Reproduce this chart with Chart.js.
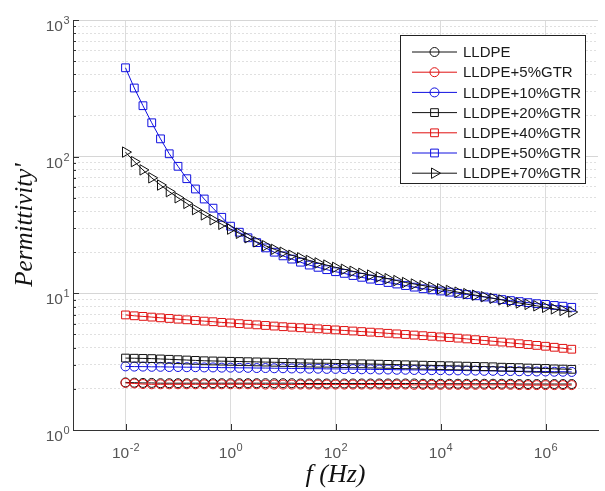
<!DOCTYPE html>
<html>
<head>
<meta charset="utf-8">
<script src="https://cdn.jsdelivr.net/npm/chart.js@4"></script>
<style>
  html, body { margin: 0; padding: 0; background: #fff; }
  canvas { display: block; }
</style>
</head>
<body>
<canvas id="permChart" width="605" height="491"></canvas>
<script>
// frequencies (Hz), 6 points per decade
var freqs = [
  0.01, 0.0147, 0.0215, 0.0316, 0.0464, 0.0681,
  0.1, 0.147, 0.215, 0.316, 0.464, 0.681,
  1, 1.47, 2.15, 3.16, 4.64, 6.81,
  10, 14.7, 21.5, 31.6, 46.4, 68.1,
  100, 147, 215, 316, 464, 681,
  1000, 1470, 2150, 3160, 4640, 6810,
  1e4, 1.47e4, 2.15e4, 3.16e4, 4.64e4, 6.81e4,
  1e5, 1.47e5, 2.15e5, 3.16e5, 4.64e5, 6.81e5,
  1e6, 1.47e6, 2.15e6, 3.16e6
];

var lldpe = [
  2.23, 2.22, 2.21, 2.21, 2.2, 2.2,
  2.2, 2.2, 2.2, 2.2, 2.2, 2.2,
  2.2, 2.2, 2.2, 2.2, 2.2, 2.2,
  2.2, 2.2, 2.19, 2.19, 2.19, 2.19,
  2.19, 2.19, 2.19, 2.19, 2.19, 2.19,
  2.19, 2.19, 2.19, 2.19, 2.18, 2.18,
  2.18, 2.18, 2.18, 2.18, 2.18, 2.18,
  2.18, 2.18, 2.18, 2.17, 2.17, 2.17,
  2.17, 2.17, 2.17, 2.17
];
var gtr5 = [
  2.21, 2.19, 2.17, 2.16, 2.16, 2.16,
  2.16, 2.16, 2.16, 2.16, 2.16, 2.16,
  2.16, 2.16, 2.16, 2.16, 2.15, 2.15,
  2.15, 2.15, 2.15, 2.15, 2.15, 2.15,
  2.15, 2.15, 2.15, 2.15, 2.15, 2.15,
  2.15, 2.15, 2.15, 2.14, 2.14, 2.14,
  2.14, 2.14, 2.14, 2.14, 2.14, 2.14,
  2.14, 2.14, 2.14, 2.13, 2.13, 2.13,
  2.13, 2.13, 2.13, 2.13
];
var gtr10 = [
  2.92, 2.91, 2.91, 2.9, 2.9, 2.89,
  2.89, 2.88, 2.88, 2.87, 2.87, 2.86,
  2.86, 2.85, 2.85, 2.84, 2.84, 2.83,
  2.83, 2.82, 2.82, 2.81, 2.81, 2.8,
  2.8, 2.79, 2.79, 2.78, 2.78, 2.77,
  2.77, 2.76, 2.76, 2.75, 2.75, 2.74,
  2.74, 2.73, 2.73, 2.72, 2.72, 2.71,
  2.71, 2.7, 2.7, 2.69, 2.69, 2.68,
  2.68, 2.67, 2.67, 2.66
];
var gtr20 = [
  3.36, 3.35, 3.34, 3.33, 3.31, 3.29,
  3.27, 3.25, 3.23, 3.21, 3.2, 3.19,
  3.18, 3.17, 3.16, 3.15, 3.14, 3.13,
  3.12, 3.11, 3.1, 3.09, 3.08, 3.08,
  3.07, 3.06, 3.05, 3.05, 3.04, 3.03,
  3.02, 3.01, 3.0, 2.99, 2.98, 2.97,
  2.96, 2.95, 2.94, 2.93, 2.92, 2.91,
  2.9, 2.88, 2.87, 2.86, 2.84, 2.83,
  2.82, 2.8, 2.79, 2.78
];
var gtr40 = [
  6.95, 6.85, 6.78, 6.7, 6.62, 6.55,
  6.47, 6.4, 6.33, 6.26, 6.2, 6.13,
  6.07, 6.0, 5.94, 5.88, 5.82, 5.76,
  5.7, 5.65, 5.6, 5.55, 5.5, 5.45,
  5.4, 5.35, 5.3, 5.25, 5.2, 5.15,
  5.1, 5.05, 5.0, 4.95, 4.9, 4.85,
  4.8, 4.75, 4.7, 4.64, 4.58, 4.52,
  4.46, 4.4, 4.34, 4.28, 4.22, 4.16,
  4.1, 4.03, 3.96, 3.9
];
var gtr50 = [
  447, 318, 236, 177, 135, 105,
  85, 69, 58, 49, 42, 36,
  31, 28, 25.5, 23.5, 21.5, 20,
  18.8, 17.8, 16.9, 16.1, 15.5, 14.9,
  14.4, 14.0, 13.5, 13.1, 12.7, 12.4,
  12.0, 11.7, 11.4, 11.1, 10.8, 10.6,
  10.4, 10.2, 10.0, 9.8, 9.6, 9.4,
  9.2, 9.0, 8.85, 8.7, 8.55, 8.4,
  8.3, 8.15, 8.05, 7.9
];
var gtr70 = [
  108, 92, 80, 70, 62, 55.5,
  50, 45.5, 41, 37.5, 34.5, 32,
  29.5, 27.5, 25.5, 23.8, 22.3, 21,
  20, 19, 18.2, 17.4, 16.7, 16.1,
  15.5, 15.0, 14.5, 14.0, 13.6, 13.2,
  12.8, 12.4, 12.0, 11.7, 11.4, 11.1,
  10.8, 10.5, 10.2, 9.95, 9.7, 9.45,
  9.2, 8.95, 8.7, 8.5, 8.3, 8.1,
  7.9, 7.7, 7.5, 7.3
];

var seriesNames = ['LLDPE', 'LLDPE+5%GTR', 'LLDPE+10%GTR', 'LLDPE+20%GTR', 'LLDPE+40%GTR', 'LLDPE+50%GTR', 'LLDPE+70%GTR'];

// tick values and their exponent labels (drawn as 10 + superscript)
var xTickValues = [1e-2, 1, 1e2, 1e4, 1e6];
var xTickExps = ['-2', '0', '2', '4', '6'];
var yTickValues = [1, 10, 100, 1000];
var yTickExps = ['0', '1', '2', '3'];

var BLACK = '#111111', RED = '#e01010', BLUE = '#1010e0';

var styles = [
  { color: BLACK, point: 'circle', r: 4.5, rot: 0 },
  { color: RED, point: 'circle', r: 4.5, rot: 0 },
  { color: BLUE, point: 'circle', r: 4.5, rot: 0 },
  { color: BLACK, point: 'rect', r: 5.5, rot: 0 },
  { color: RED, point: 'rect', r: 5.5, rot: 0 },
  { color: BLUE, point: 'rect', r: 5.5, rot: 0 },
  { color: BLACK, point: 'triangle', r: 6, rot: 90 }
];

function pairs(vals) {
  return freqs.map(function(f, i) { return { x: f, y: vals[i] }; });
}

var allSeries = [lldpe, gtr5, gtr10, gtr20, gtr40, gtr50, gtr70];
var datasets = allSeries.map(function(vals, i) {
  var s = styles[i];
  return {
    label: seriesNames[i],
    data: pairs(vals),
    borderColor: s.color,
    borderWidth: 1,
    pointStyle: s.point,
    pointRadius: s.r,
    pointRotation: s.rot,
    pointBorderColor: s.color,
    pointBackgroundColor: 'rgba(0,0,0,0)',
    pointBorderWidth: 1,
    order: 10 - i
  };
});

function isDecade(v) {
  var l = Math.log10(v);
  return Math.abs(l - Math.round(l)) < 1e-6;
}

var BASE_FONT = '15.5px "Liberation Sans", Arial, sans-serif';
var EXP_FONT = '11px "Liberation Sans", Arial, sans-serif';

// draws "10" with a raised exponent; anchor: 'center' or 'right'
function drawPow(ctx, exp, x, baseline, anchor) {
  ctx.font = BASE_FONT;
  var wb = ctx.measureText('10').width;
  ctx.font = EXP_FONT;
  var we = ctx.measureText(exp).width;
  var start = anchor === 'center' ? x - (wb + we) / 2 : x - (wb + we);
  ctx.font = BASE_FONT;
  ctx.fillText('10', start, baseline);
  ctx.font = EXP_FONT;
  ctx.fillText(exp, start + wb + 0.5, baseline - 7);
}

// MATLAB-like inward tick marks and power-of-ten labels
var axisDecor = {
  id: 'axisDecor',
  afterDraw: function(chart) {
    var ctx = chart.ctx, xs = chart.scales.x, ys = chart.scales.y;
    var area = chart.chartArea;
    ctx.save();
    ctx.strokeStyle = '#333';
    ctx.lineWidth = 1;
    ctx.beginPath();
    ys.ticks.forEach(function(t) {
      var y = Math.round(ys.getPixelForValue(t.value)) + 0.5;
      var len = isDecade(t.value) ? 6 : 3;
      ctx.moveTo(area.left, y);
      ctx.lineTo(area.left + len, y);
    });
    xs.ticks.forEach(function(t) {
      var x = Math.round(xs.getPixelForValue(t.value)) + 0.5;
      ctx.moveTo(x, area.bottom);
      ctx.lineTo(x, area.bottom - 6);
    });
    ctx.stroke();

    ctx.fillStyle = '#555';
    ctx.textBaseline = 'alphabetic';
    ctx.textAlign = 'left';
    xTickValues.forEach(function(v, i) {
      drawPow(ctx, xTickExps[i], xs.getPixelForValue(v), area.bottom + 28, 'center');
    });
    yTickValues.forEach(function(v, i) {
      drawPow(ctx, yTickExps[i], area.left - 4, ys.getPixelForValue(v) + 11, 'right');
    });
    ctx.restore();
  }
};

function drawMarker(ctx, style, x, y) {
  ctx.beginPath();
  if (style.point === 'circle') {
    ctx.arc(x, y, style.r, 0, Math.PI * 2);
  } else if (style.point === 'rect') {
    var h = style.r * Math.SQRT1_2;
    ctx.rect(x - h, y - h, 2 * h, 2 * h);
  } else {
    var rad = style.rot * Math.PI / 180;
    for (var k = 0; k < 3; k++) {
      var px = x + Math.sin(rad) * style.r, py = y - Math.cos(rad) * style.r;
      if (k === 0) ctx.moveTo(px, py); else ctx.lineTo(px, py);
      rad += 2 * Math.PI / 3;
    }
    ctx.closePath();
  }
  ctx.stroke();
}

var boxLegend = {
  id: 'boxLegend',
  afterDraw: function(chart) {
    var ctx = chart.ctx;
    var left = 400.5, top = 35.5, w = 185, h = 148;
    ctx.save();
    ctx.fillStyle = '#fff';
    ctx.fillRect(left, top, w, h);
    ctx.strokeStyle = '#222';
    ctx.lineWidth = 1;
    ctx.strokeRect(left, top, w, h);
    ctx.font = '15px "Liberation Sans", Arial, sans-serif';
    ctx.textBaseline = 'middle';
    seriesNames.forEach(function(name, i) {
      var y = 52 + i * 20.2;
      var s = styles[i];
      ctx.strokeStyle = s.color;
      ctx.beginPath();
      ctx.moveTo(412, y);
      ctx.lineTo(457, y);
      ctx.stroke();
      drawMarker(ctx, s, 434.5, y);
      ctx.fillStyle = '#1a1a1a';
      ctx.fillText(name, 463, y + 1);
    });
    ctx.restore();
  }
};

var titleFont = { family: '"Liberation Serif", "Times New Roman", serif', style: 'italic', size: 26 };

var ctx = document.getElementById('permChart').getContext('2d');
var permChart = new Chart(ctx, {
  type: 'line',
  data: { datasets: datasets },
  options: {
    responsive: false,
    animation: false,
    layout: { padding: { top: 20, right: 5, left: 0, bottom: 0 } },
    plugins: {
      legend: { display: false },
      tooltip: { enabled: false }
    },
    scales: {
      x: {
        type: 'logarithmic',
        min: 1e-3,
        max: 1e7,
        afterBuildTicks: function(scale) {
          scale.ticks = xTickValues.map(function(v) { return { value: v }; });
        },
        afterFit: function(scale) { scale.height = 61; },
        ticks: { display: false },
        grid: { color: '#dcdcdc', drawTicks: false },
        border: { color: '#333', width: 1 },
        title: { display: true, text: 'f (Hz)', font: titleFont, color: '#111', padding: 0 }
      },
      y: {
        type: 'logarithmic',
        min: 1,
        max: 1000,
        afterBuildTicks: function(scale) {
          var t = [];
          for (var k = 0; k < 3; k++) {
            for (var m = 1; m < 10; m++) t.push({ value: m * Math.pow(10, k) });
          }
          t.push({ value: 1000 });
          scale.ticks = t;
        },
        afterFit: function(scale) { scale.width = 73; },
        ticks: { display: false },
        grid: {
          drawTicks: false,
          color: function(c) {
            return (c.tick && isDecade(c.tick.value)) ? '#d6d6d6' : '#e0e0e0';
          }
        },
        border: {
          color: '#333',
          width: 1,
          dash: function(c) {
            return (c.tick && !isDecade(c.tick.value)) ? [2, 2] : [];
          }
        },
        title: { display: true, text: "Permittivity'", font: { family: titleFont.family, style: 'italic', size: 25 }, color: '#111', padding: { top: 10 } }
      }
    }
  },
  plugins: [axisDecor, boxLegend]
});
</script>
</body>
</html>
